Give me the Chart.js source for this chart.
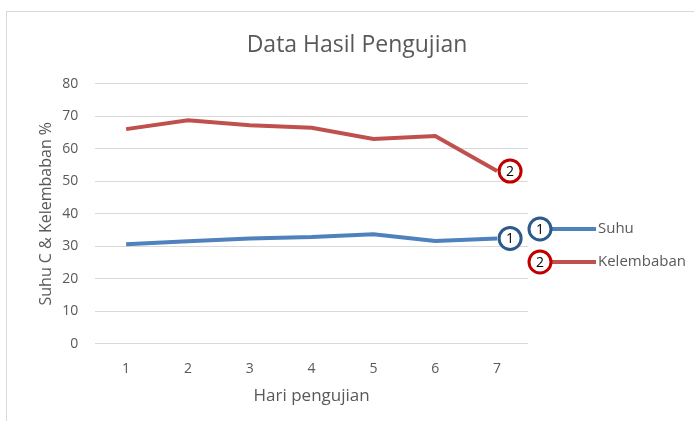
<!DOCTYPE html>
<html lang="id">
<head>
    <meta charset="UTF-8">
    <title>Data Hasil Pengujian</title>
    <script src="https://cdn.jsdelivr.net/npm/chart.js@4.4.1/dist/chart.umd.min.js"></script>
    <style>
        html, body { margin: 0; padding: 0; background: #fff; overflow: hidden; }
        .frame {
            position: absolute; left: 6px; top: 11px; width: 720px; height: 440px;
            border: 1px solid #d9d9d9;
        }
        canvas { position: absolute; left: 0; top: 0; }
    </style>
</head>
<body>
    <div class="frame"></div>
    <canvas id="chart" width="694" height="421"></canvas>

    <script>
        // Data
        const hari = ['1', '2', '3', '4', '5', '6', '7'];
        const suhu = [30.6, 31.5, 32.4, 32.8, 33.7, 31.6, 32.4];
        const kelembaban = [66.0, 68.7, 67.2, 66.4, 63.0, 63.9, 53.1];
        const yTicks = [0, 10, 20, 30, 40, 50, 60, 70, 80];

        const FONT = "'Open Sans', sans-serif";
        const GREY = '#595959';

        const seriesInfo = [
            { label: 'Suhu', color: '#4f81bd', ring: '#2c5a8c', no: '1' },
            { label: 'Kelembaban', color: '#c0504d', ring: '#c00000', no: '2' }
        ];

        function ring(ctx, x, y, info) {
            ctx.beginPath();
            ctx.arc(x, y, 11, 0, Math.PI * 2);
            ctx.fillStyle = '#fff';
            ctx.fill();
            ctx.lineWidth = 3;
            ctx.strokeStyle = info.ring;
            ctx.stroke();
            ctx.fillStyle = '#000';
            ctx.font = "14px " + FONT;
            ctx.textAlign = 'center';
            ctx.textBaseline = 'middle';
            ctx.fillText(info.no, x, y + 1);
        }

        // numbered rings at line ends + legend on the right
        const annotations = {
            id: 'annotations',
            afterDatasetsDraw(chart) {
                const ctx = chart.ctx;
                ctx.save();
                chart.data.datasets.forEach((ds, i) => {
                    const pts = chart.getDatasetMeta(i).data;
                    const last = pts[pts.length - 1];
                    ring(ctx, last.x + 13, last.y, seriesInfo[i]);
                });
                ctx.restore();
            },
            afterDraw(chart) {
                const ctx = chart.ctx;
                const area = chart.chartArea;
                ctx.save();
                seriesInfo.forEach((info, i) => {
                    const cx = area.right + 12;
                    const cy = 229 + i * 33;
                    ctx.beginPath();
                    ctx.moveTo(cx + 10, cy);
                    ctx.lineTo(cx + 56, cy);
                    ctx.lineWidth = 4;
                    ctx.strokeStyle = info.color;
                    ctx.stroke();
                    ring(ctx, cx, cy, info);
                    ctx.fillStyle = GREY;
                    ctx.font = "15px " + FONT;
                    ctx.textAlign = 'left';
                    ctx.textBaseline = 'middle';
                    ctx.fillText(info.label, cx + 58, cy);
                });
                ctx.restore();
            }
        };

        new Chart(document.getElementById('chart'), {
            type: 'line',
            data: {
                labels: hari,
                datasets: [
                    { label: 'Suhu', data: suhu, borderColor: seriesInfo[0].color, borderWidth: 4, pointRadius: 0, tension: 0 },
                    { label: 'Kelembaban', data: kelembaban, borderColor: seriesInfo[1].color, borderWidth: 4, pointRadius: 0, tension: 0 }
                ]
            },
            options: {
                responsive: false,
                animation: false,
                devicePixelRatio: 1,
                layout: { padding: { left: 20, right: 0, top: 32, bottom: 11 } },
                plugins: {
                    legend: { display: false },
                    tooltip: { enabled: false },
                    title: {
                        display: true,
                        text: 'Data Hasil Pengujian',
                        color: GREY,
                        font: { family: FONT, size: 23, weight: 'normal' },
                        padding: { top: 0, bottom: 24 }
                    }
                },
                scales: {
                    x: {
                        offset: true,
                        grid: { display: false, drawTicks: false },
                        border: { display: false },
                        ticks: { color: GREY, font: { family: FONT, size: 14 }, padding: 17 },
                        title: { display: true, text: 'Hari pengujian', color: GREY, font: { family: FONT, size: 17 }, padding: { top: -9 } }
                    },
                    y: {
                        min: 0,
                        max: 80,
                        afterBuildTicks: s => { s.ticks = yTicks.map(v => ({ value: v })); },
                        grid: { color: '#d9d9d9', lineWidth: 1, drawTicks: false },
                        border: { display: false },
                        ticks: { color: GREY, font: { family: FONT, size: 14 }, padding: 17 },
                        title: { display: true, text: 'Suhu C & Kelembaban %', color: GREY, font: { family: FONT, size: 16 }, padding: { top: 17, bottom: -11 } }
                    },
                    legendSpace: {
                        position: 'right',
                        display: true,
                        grid: { display: false },
                        border: { display: false },
                        ticks: { display: false },
                        afterFit: s => { s.width = 166; }
                    }
                }
            },
            plugins: [annotations]
        });
    </script>
</body>
</html>
